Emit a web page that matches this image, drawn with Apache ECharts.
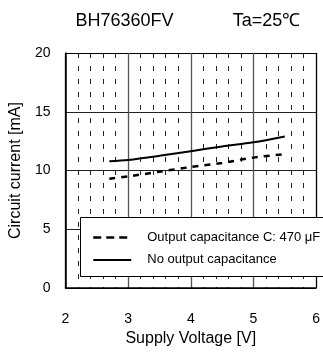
<!DOCTYPE html>
<html>
<head>
<meta charset="utf-8">
<script src="https://cdn.jsdelivr.net/npm/echarts@6/dist/echarts.min.js"></script>
<style>
html,body{margin:0;padding:0;background:#fff;overflow:hidden;}
#chart{width:323px;height:352px;}
</style>
</head>
<body>
<div id="chart"></div>
<script>
var voltage = [2.7, 3.0, 3.5, 4.0, 4.5, 5.0, 5.5];
var currentWithCap = [9.3, 9.5, 9.9, 10.3, 10.65, 11.1, 11.4];
var currentNoCap = [10.8, 10.9, 11.25, 11.65, 12.05, 12.4, 12.9];
var seriesNames = ['Output capacitance C: 470 \u03bcF', 'No output capacitance'];
var chartTitle = 'BH76360FV';
var chartCondition = 'Ta=25\u2103';
var xTitle = 'Supply Voltage [V]';
var yTitle = 'Circuit current [mA]';

function pairs(xs, ys){ return xs.map(function(x,i){ return [x, ys[i]]; }); }

var font = '"Liberation Sans", Arial, sans-serif';
var hidden = {color: 'rgba(0,0,0,0)', borderWidth: 0, opacity: 0};
var chart = echarts.init(document.getElementById('chart'), null, {renderer:'canvas'});
chart.setOption({
  animation: false,
  backgroundColor: '#fff',
  textStyle: {fontFamily: font, color: '#000'},
  title: [
    {text: chartTitle, left: 124.5, top: 12, textAlign: 'center', padding: 0,
     textStyle: {fontFamily: font, fontSize: 18, fontWeight: 'normal', color: '#000'}},
    {text: chartCondition, left: 266.5, top: 12, textAlign: 'center', padding: 0,
     textStyle: {fontFamily: font, fontSize: 18, fontWeight: 'normal', color: '#000'}}
  ],
  grid: {left: 62, right: 5, top: 53, bottom: 61, show: false},
  graphic: [{
    type: 'rect', zlevel: 1, z: 1, silent: true,
    shape: {x: 80, y: 217.5, width: 260, height: 59},
    style: {fill: '#fff', stroke: null}
  }, {
    type: 'polyline', zlevel: 1, z: 2, silent: true,
    shape: {points: [[340, 217.5], [80.5, 217.5], [80.5, 276.5], [340, 276.5]]},
    style: {fill: null, stroke: '#000', lineWidth: 1}
  }],
  legend: {
    left: 80, top: 217, orient: 'vertical', zlevel: 1, z: 5,
    backgroundColor: 'transparent', borderWidth: 0,
    padding: [14, 5, 8, 12],
    itemWidth: 38, itemHeight: 14, itemGap: 9.4,
    textStyle: {fontFamily: font, fontSize: 13, color: '#000', padding: [0, 0, 0, 11]},
    data: [
      {name: seriesNames[0], itemStyle: hidden, lineStyle: {color: '#000', width: 2.5, type: [8, 5]}},
      {name: seriesNames[1], itemStyle: hidden, lineStyle: {color: '#000', width: 2}}
    ]
  },
  xAxis: {
    type: 'value', min: 2, max: 6, interval: 1,
    axisLine: {show: true, onZero: false, lineStyle: {color: '#000', width: 1.5}},
    axisTick: {show: false},
    axisLabel: {fontFamily: font, fontSize: 14, color: '#000', margin: 24},
    splitLine: {show: true, showMinLine: true, showMaxLine: true,
      lineStyle: {color: ['#000', '#555', '#555', '#555', '#000'], width: 1.3}},
    minorTick: {show: false, splitNumber: 5},
    minorSplitLine: {show: true, lineStyle: {color: '#222', width: 1, type: [5, 8]}},
    name: xTitle, nameLocation: 'middle', nameGap: 40,
    nameTextStyle: {fontFamily: font, fontSize: 16, color: '#000'}
  },
  yAxis: {
    type: 'value', min: 0, max: 20, interval: 5,
    axisLine: {show: true, onZero: false, lineStyle: {color: '#000', width: 1.5}},
    axisTick: {show: false},
    axisLabel: {fontFamily: font, fontSize: 14, color: '#000', margin: 15},
    splitLine: {show: true, showMinLine: true, showMaxLine: true,
      lineStyle: {color: ['#000', '#222', '#222', '#222', '#000'], width: 1.2}},
    name: yTitle, nameLocation: 'middle', nameGap: 40, nameRotate: 90,
    nameTextStyle: {fontFamily: font, fontSize: 16, color: '#000'}
  },
  series: [
    {
      name: seriesNames[0], type: 'line', data: pairs(voltage, currentWithCap),
      smooth: 0.3, symbol: 'none', showSymbol: false,
      lineStyle: {color: '#000', width: 2.5, type: [6, 6]},
      itemStyle: {color: '#000'}
    },
    {
      name: seriesNames[1], type: 'line', data: pairs(voltage, currentNoCap),
      smooth: 0.3, symbol: 'none', showSymbol: false,
      lineStyle: {color: '#000', width: 2},
      itemStyle: {color: '#000'}
    }
  ]
});
</script>
</body>
</html>
